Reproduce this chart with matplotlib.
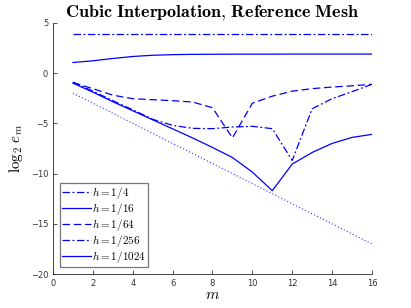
import numpy as np
import matplotlib
matplotlib.use("Agg")
import matplotlib.pyplot as plt

plt.rcParams['mathtext.fontset'] = 'cm'

m = np.arange(1, 17)
e_h4 = [3.85]*16
e_h16 = [1.05, 1.22, 1.45, 1.65, 1.77, 1.83, 1.86, 1.87, 1.88, 1.88, 1.88, 1.89, 1.89, 1.89, 1.89, 1.89]
e_h64 = [-0.95, -1.55, -2.2, -2.55, -2.65, -2.75, -2.88, -3.45, -6.45, -3.0, -2.3, -1.8, -1.55, -1.39, -1.27, -1.12]
e_h256 = [-0.9, -1.8, -2.75, -3.65, -4.6, -5.2, -5.5, -5.53, -5.37, -5.3, -5.53, -8.7, -3.55, -2.55, -1.85, -1.12]
e_h1024 = [-1.0, -1.9, -2.85, -3.75, -4.65, -5.55, -6.45, -7.4, -8.4, -9.85, -11.7, -9.05, -7.9, -7.0, -6.4, -6.1]
ref = [-2, -3, -4, -5, -6, -7, -8, -9, -10, -11, -12, -13, -14, -15, -16, -17]

fig = plt.figure(figsize=(4.11, 3.08), dpi=100)
ax = fig.add_axes([0.129, 0.110, 0.776, 0.816])
lw = 0.9
ax.plot(m, e_h4, color='blue', lw=lw, ls=(0, (6, 2, 1.5, 2)), label=r'$h = 1/4$')
ax.plot(m, e_h16, color='blue', lw=lw, ls='-', label=r'$h = 1/16$')
ax.plot(m, e_h64, color='blue', lw=lw, ls=(0, (6, 3)), label=r'$h = 1/64$')
ax.plot(m, e_h256, color='blue', lw=lw, ls=(0, (6, 2, 1.5, 2)), label=r'$h = 1/256$')
ax.plot(m, e_h1024, color='blue', lw=lw, ls='-', label=r'$h = 1/1024$')
ax.plot(m, ref, color='blue', lw=0.8, ls=(0, (1, 2)), alpha=0.8)

ax.set_xlim(0, 16); ax.set_ylim(-20, 5)
ax.set_xticks(range(0, 17, 2)); ax.set_yticks(range(-20, 6, 5))
ax.tick_params(direction='in', labelsize=6, length=3, width=0.6, colors='#333333')
for s in ['top', 'right']:
    ax.spines[s].set_visible(False)
for s in ['left', 'bottom']:
    ax.spines[s].set_linewidth(0.6); ax.spines[s].set_color('#262626')

ax.set_xlabel(r'$m$', fontsize=11, labelpad=-1)
ax.set_ylabel(r'$\log_2\, e_m$', fontsize=11, labelpad=4)
ax.set_title(r'$\mathbf{Cubic\ Interpolation{,}\ Reference\ Mesh}$', fontsize=13, pad=4)

leg = ax.legend(loc='lower left', fontsize=8, frameon=True, fancybox=False,
                handlelength=2.6, handletextpad=0.1, borderpad=0.2, labelspacing=0.0,
                borderaxespad=0.6)
leg.get_frame().set_edgecolor('#555555'); leg.get_frame().set_linewidth(0.9)

fig.savefig('out.png', dpi=100)
